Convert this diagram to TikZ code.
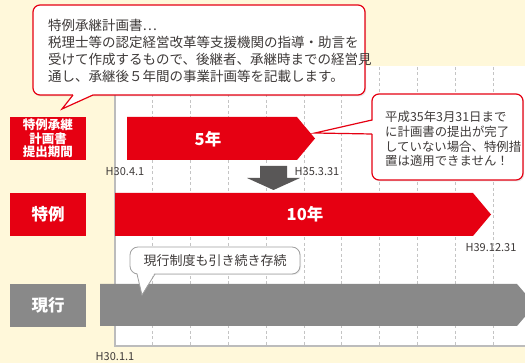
\documentclass[tikz,border=0pt]{standalone}
\usepackage{fontspec}
\setmainfont{Noto Sans CJK JP}
\usepackage{tikz}
\usetikzlibrary{shadows}

\definecolor{cream}{HTML}{FFF8DA}
\definecolor{tokured}{HTML}{E60012}
\definecolor{bargray}{HTML}{898989}
\definecolor{arrowgray}{HTML}{595757}
\definecolor{inkgray}{HTML}{3E3A39}
\definecolor{gridgray}{HTML}{C4C4C4}
\definecolor{framegray}{HTML}{A0A0A0}

\begin{document}
\begin{tikzpicture}[x=1pt, y=-1pt,
  every node/.style={text=inkgray, inner sep=0pt},
  labelbox/.style={minimum width=76pt, minimum height=43pt, text=white, align=center},
  bartext/.style={text=white, font=\fontsize{16.5}{18}\bfseries},
  datelabel/.style={font=\fontsize{11}{12}\selectfont},
  gridline/.style={draw=gridgray, dash pattern=on 3pt off 2.5pt, line width=0.7pt},
  balloon/.style={fill=white, draw=tokured, line width=1.2pt, rounded corners=7pt,
    drop shadow={opacity=0.18, shadow xshift=1.2pt, shadow yshift=-1.5pt}},
  greyballoon/.style={fill=white, draw=framegray, line width=0.8pt, rounded corners=8pt,
    drop shadow={opacity=0.15, shadow xshift=1pt, shadow yshift=-1pt}}]
   \useasboundingbox (0,0) rectangle (525,363);
   \fill[cream] (0,0) rectangle (525,363);
   \clip (0,0) rectangle (525,363);

   % timeline panel
   \fill[white] (115,66) rectangle (540,346);
   \foreach \k in {1,...,11}
      \draw[gridline] ({115+37.8*\k},67) -- ({115+37.8*\k},345);
   \draw[framegray!70, line width=1.2pt] (115,66) -- (115,346) -- (540,346);

   % row labels
   \node[labelbox, fill=tokured, font=\fontsize{12.5}{13.5}\bfseries] (planlabel) at (48,138.5) {特例承継\\計画書\\提出期間};
   \node[labelbox, fill=tokured, font=\fontsize{16.5}{18}\bfseries] (speciallabel) at (48,214.5) {特例};
   \node[labelbox, fill=bargray, font=\fontsize{16.5}{18}\bfseries] (currentlabel) at (48,305.5) {現行};

   % bars
   \fill[tokured] (127,117) -- (297,117) -- (315,138.5) -- (297,160) -- (127,160) -- cycle;
   \node[bartext] (fiveyears) at (208,139) {5年};
   \fill[tokured] (115,193) -- (473,193) -- (491,214.5) -- (473,236) -- (115,236) -- cycle;
   \node[bartext] (tenyears) at (305,214.5) {10年};
   \fill[bargray] (100,284) -- (517,284) -- (535,305) -- (517,326) -- (100,326) -- cycle;

   \fill[arrowgray] (260,166) -- (287,166) -- (287,178) -- (300,178) -- (273.5,190) -- (247,178) -- (260,178) -- cycle;

   % dates
   \node[datelabel] (planstart) at (125,172) {H30.4.1};
   \node[datelabel] (planend) at (317,172) {H35.3.31};
   \node[datelabel] (specialend) at (491,248) {H39.12.31};
   \node[datelabel] (currentstart) at (115,357) {H30.1.1};

   % callouts
   \path[balloon] (33,5) rectangle (365,95);
   \fill[white] (73,92) -- (93,92) -- (93,95) -- (62,109) -- (73,95) -- cycle;
   \draw[tokured, line width=1.2pt] (73,95) -- (62,109) -- (93,95);
   \node[anchor=west, align=left, font=\fontsize{13.5}{17}\selectfont] (plannote) at (48,51)
      {特例承継計画書…\\税理士等の認定経営改革等支援機関の指導・助言を\\受けて作成するもので、後継者、承継時までの経営見\\通し、承継後５年間の事業計画等を記載します。};

   \path[balloon] (372,94) rectangle (523,180);
   \fill[white] (375,120) -- (315,133) -- (375,134) -- cycle;
   \draw[tokured, line width=1.2pt] (372,120) -- (315,133) -- (372,134);
   \node[anchor=west, align=left, font=\fontsize{12.4}{14.8}\selectfont] (deadlinenote) at (385,139)
      {平成35年3月31日まで\\に計画書の提出が完了\\していない場合、特例措\\置は適用できません！};

   \path[greyballoon] (130,247) rectangle (300,274);
   \fill[white] (137,272) -- (155,272) -- (142,295) -- cycle;
   \draw[framegray, line width=0.8pt] (137,274) -- (142,295) -- (155,274);
   \node[font=\fontsize{13}{15}\selectfont] (currentnote) at (215,261) {現行制度も引き続き存続};
\end{tikzpicture}
\end{document}
